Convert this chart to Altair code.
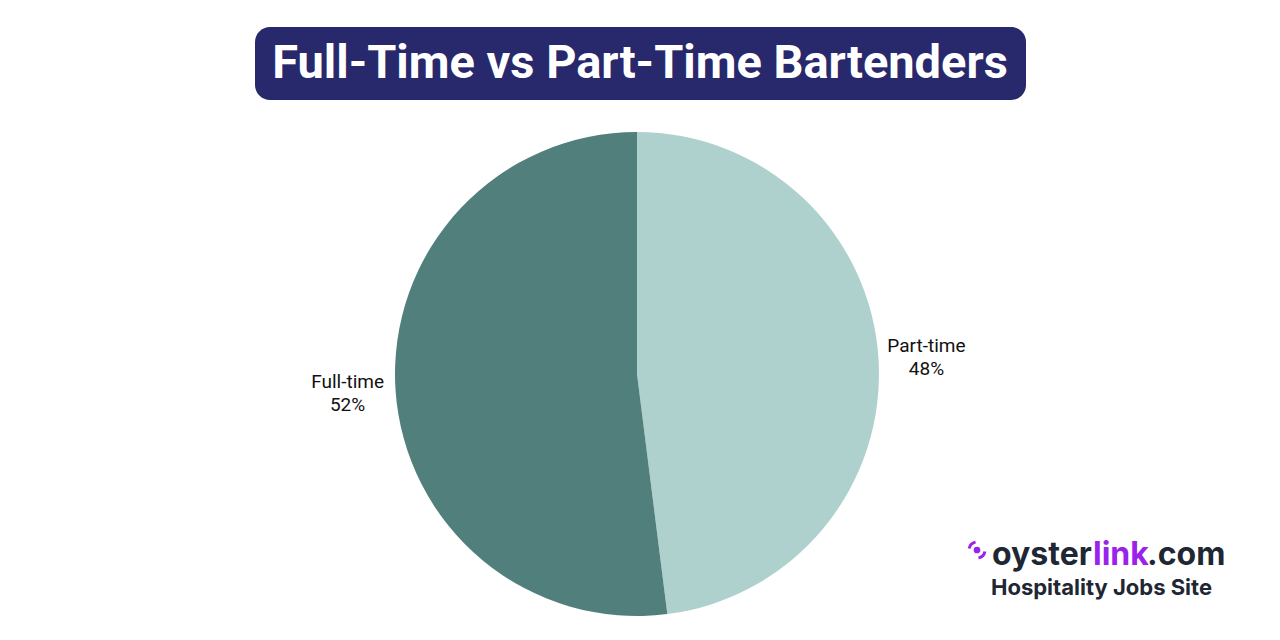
import altair as alt
import pandas as pd

categories = ["Part-time", "Full-time"]
shares = [48, 52]
colors = ["#AFD1CD", "#517F7B"]
title_text = "Full-Time vs Part-Time Bartenders"
brand_parts = ["oyster", "link", ".com"]
brand_colors = ["#1E2733", "#9B22EA", "#1E2733"]
tagline = "Hospitality Jobs Site"

W, H = 1264, 624
OFF = 8
CX, CY = 637 - OFF, 374 - OFF

pie_df = pd.DataFrame({"cat": categories, "share": shares})
pie_df["label"] = [f"{c}\n{s}%" for c, s in zip(categories, shares)]
pie_df["order"] = [0, 1]

base = alt.Chart(pie_df).encode(
    theta=alt.Theta("share:Q", stack=True),
    order=alt.Order("order:Q"),
)

pie = base.mark_arc(outerRadius=242, strokeWidth=0).encode(
    x=alt.value(CX), y=alt.value(CY),
    color=alt.Color("cat:N", scale=alt.Scale(domain=categories, range=colors), legend=None),
)

labels = base.mark_text(radius=290, font="Roboto", fontSize=19, lineBreak="\n",
                        lineHeight=23, color="#111111", baseline="middle", dy=-10).encode(
    x=alt.value(CX), y=alt.value(CY),
    text="label:N",
)

dummy = pd.DataFrame({"a": [0]})

title_box = alt.Chart(dummy).mark_rect(color="#28286C", cornerRadius=15).encode(
    x=alt.value(255 - OFF), x2=alt.value(1026 - OFF),
    y=alt.value(27 - OFF), y2=alt.value(100 - OFF),
)
title = alt.Chart(pd.DataFrame({"t": [title_text]})).mark_text(
    font="Roboto", fontWeight="bold", fontSize=47, color="white",
    align="center", baseline="middle",
).encode(x=alt.value(640 - OFF), y=alt.value(64 - OFF), text="t:N")

brand_df = pd.DataFrame({"t": brand_parts, "c": brand_colors,
                         "xp": [992 - OFF, 1093 - OFF, 1147 - OFF]})
brand = alt.Chart(brand_df).mark_text(
    font="Inter", fontWeight="bold", fontSize=32, align="left", baseline="alphabetic",
).encode(
    x=alt.X("xp:Q", scale=None), y=alt.value(565 - OFF), text="t:N",
    color=alt.Color("c:N", scale=None),
)
tag = alt.Chart(pd.DataFrame({"t": [tagline]})).mark_text(
    font="Inter", fontWeight="bold", fontSize=22, color="#1E2733",
    align="left", baseline="alphabetic",
).encode(x=alt.value(991 - OFF), y=alt.value(595 - OFF), text="t:N")

icon_dot = alt.Chart(dummy).mark_point(filled=True, size=45, color="#9B22EA", opacity=1).encode(
    x=alt.value(977 - OFF), y=alt.value(550 - OFF))
icon_arcs_df = pd.DataFrame({"t0": [4.9, 1.75], "t1": [6.1, 2.95]})
icon_arcs = alt.Chart(icon_arcs_df).mark_arc(innerRadius=6.5, outerRadius=9.5, color="#9B22EA").encode(
    theta=alt.Theta("t0:Q", scale=None), theta2="t1:Q",
    x=alt.value(977 - OFF), y=alt.value(550 - OFF))

chart = alt.layer(pie, labels, title_box, title, icon_arcs, icon_dot, brand, tag).properties(
    width=W, height=H, padding=0, background="white",
    autosize=alt.AutoSizeParams(type="fit", contains="padding"),
).configure_view(strokeWidth=0, stroke="transparent")

chart.save("out.html", embed_options={"renderer": "svg", "actions": False})
